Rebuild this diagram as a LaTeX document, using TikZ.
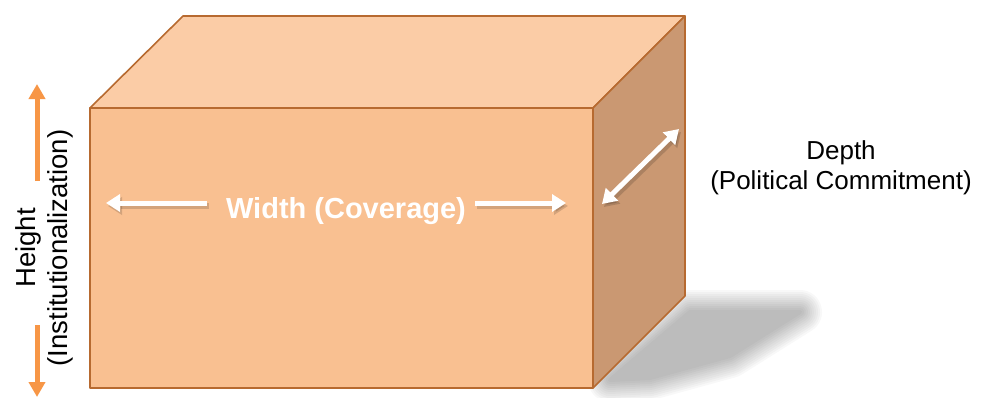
\documentclass[tikz,border=0pt]{standalone}
\usepackage{fontspec}
\setmainfont{Liberation Sans}
\usetikzlibrary{arrows.meta}
\definecolor{frontc}{RGB}{249,192,145}
\definecolor{topc}{RGB}{251,204,166}
\definecolor{sidec}{RGB}{202,152,114}
\definecolor{edgec}{RGB}{183,106,48}
\definecolor{orangec}{RGB}{247,150,70}
\tikzset{
  face/.style={draw=edgec, line width=1.6pt, line join=round},
  wtip/.tip={Triangle[width=17pt,length=14pt]},
  warrow/.style={white, line width=5pt, wtip-wtip},
  wshadow/.style={black, opacity=0.15, line width=6pt},
  oarrow/.style={orangec, line width=5pt, -{Triangle[width=16pt,length=15pt]}},
  lbl/.style={font=\fontsize{26}{30}\selectfont, align=center, inner sep=0pt},
}
\begin{document}
\begin{tikzpicture}[x=1pt,y=-1pt]
\useasboundingbox (0,0) rectangle (983,397);
% corners
\coordinate (A) at (90,108);
\coordinate (B) at (593,108);
\coordinate (C) at (593,388);
\coordinate (D) at (90,388);
\coordinate (E) at (183,16);
\coordinate (F) at (685,16);
\coordinate (G) at (685,296);
% shadow
\coordinate (s1) at (610,380);
\coordinate (s2) at (690,312);
\coordinate (s3) at (800,312);
\coordinate (s4) at (730,356);
\coordinate (s5) at (650,378);
\foreach \w in {44,40,36,32,28,24,20,16,12,8,4}{
  \begin{scope}[transparency group, opacity=0.028]
    \filldraw[black, line width=\w pt, line join=round] (s1)--(s2)--(s3)--(s4)--(s5)--cycle;
  \end{scope}
}
% faces
\filldraw[face, fill=topc] (A)--(E)--(F)--(B)--cycle;
\filldraw[face, fill=sidec] (B)--(F)--(G)--(C)--cycle;
\filldraw[face, fill=frontc] (A)--(B)--(C)--(D)--cycle;
% width
\node[lbl, font=\fontsize{29}{33}\selectfont\bfseries, text=white] (w) at (346,211) {Width (Coverage)};
\coordinate (wl1) at (207,203);
\coordinate (wl2) at (106,203);
\coordinate (wr1) at (475,203);
\coordinate (wr2) at (566,203);
\draw[wshadow, -wtip] ([shift={(2,3)}]wl1) -- ([shift={(2,3)}]wl2);
\draw[wshadow, -wtip] ([shift={(2,3)}]wr1) -- ([shift={(2,3)}]wr2);
\draw[white, line width=5pt, -wtip] (wl1) -- (wl2);
\draw[white, line width=5pt, -wtip] (wr1) -- (wr2);
% depth
\coordinate (d1) at (602,204);
\coordinate (d2) at (679,129);
\draw[wshadow, wtip-wtip] ([shift={(2,3)}]d1) -- ([shift={(2,3)}]d2);
\draw[warrow] (d1) -- (d2);
\node[lbl] (depth) at (841,168) {Depth\\(Political Commitment)};
% height
\node[lbl, font=\fontsize{27.5}{32}\selectfont, rotate=90] (height) at (44,248) {Height\\(Institutionalization)};
\coordinate (hu1) at (37,181);
\coordinate (hu2) at (37,84);
\coordinate (hd1) at (37,325);
\coordinate (hd2) at (37,397);
\draw[oarrow] (hu1) -- (hu2);
\draw[oarrow] (hd1) -- (hd2);
\end{tikzpicture}
\end{document}
